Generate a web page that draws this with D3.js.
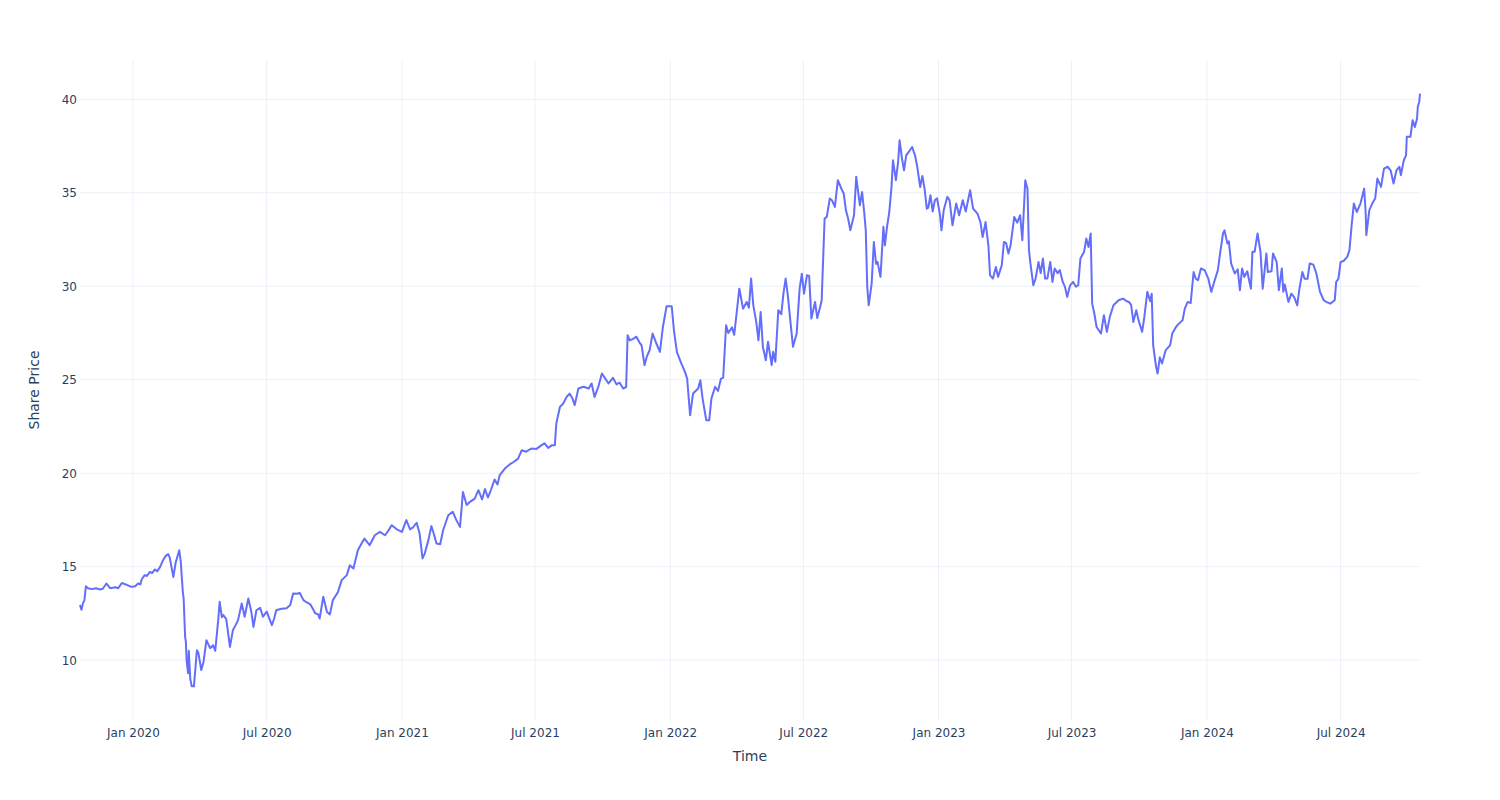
<!DOCTYPE html>
<html>
<head>
<meta charset="utf-8">
<script src="https://cdn.jsdelivr.net/npm/d3@7"></script>
<style>
  html, body { margin: 0; padding: 0; background: #fff; }
  svg { display: block; font-family: "DejaVu Sans", Verdana, sans-serif; }
</style>
</head>
<body>
<svg id="chart" width="1500" height="800"></svg>
<script>
const dates = [
"2019-10-21","2019-10-23","2019-10-25","2019-10-27","2019-10-29","2019-11-01","2019-11-06","2019-11-12","2019-11-17","2019-11-21",
"2019-11-26","2019-12-01","2019-12-08","2019-12-12","2019-12-17","2019-12-22","2019-12-30","2020-01-04","2020-01-08","2020-01-11",
"2020-01-13","2020-01-17","2020-01-20","2020-01-24","2020-01-27","2020-01-31","2020-02-03","2020-02-07","2020-02-11","2020-02-14",
"2020-02-18","2020-02-20","2020-02-25","2020-02-28","2020-03-04","2020-03-06","2020-03-09","2020-03-10","2020-03-12","2020-03-13",
"2020-03-14","2020-03-16","2020-03-17","2020-03-19","2020-03-21","2020-03-24","2020-03-28","2020-03-30","2020-04-03","2020-04-06",
"2020-04-10","2020-04-15","2020-04-19","2020-04-22","2020-04-26","2020-04-28","2020-05-01","2020-05-03","2020-05-07","2020-05-12",
"2020-05-16","2020-05-20","2020-05-23","2020-05-28","2020-06-01","2020-06-06","2020-06-10","2020-06-13","2020-06-17","2020-06-22",
"2020-06-26","2020-07-01","2020-07-08","2020-07-11","2020-07-14","2020-07-21","2020-07-28","2020-08-02","2020-08-06","2020-08-11",
"2020-08-15","2020-08-20","2020-08-24","2020-08-29","2020-09-01","2020-09-05","2020-09-09","2020-09-11","2020-09-16","2020-09-21",
"2020-09-25","2020-09-29","2020-10-06","2020-10-11","2020-10-18","2020-10-22","2020-10-27","2020-11-02","2020-11-07","2020-11-11",
"2020-11-18","2020-11-25","2020-12-02","2020-12-09","2020-12-13","2020-12-18","2020-12-25","2021-01-01","2021-01-07","2021-01-12",
"2021-01-16","2021-01-21","2021-01-25","2021-01-29","2021-02-01","2021-02-06","2021-02-10","2021-02-13","2021-02-17","2021-02-22",
"2021-02-26","2021-03-05","2021-03-11","2021-03-16","2021-03-21","2021-03-25","2021-03-30","2021-04-03","2021-04-10","2021-04-15",
"2021-04-20","2021-04-24","2021-04-28","2021-05-02","2021-05-07","2021-05-11","2021-05-14","2021-05-21","2021-05-28","2021-06-02",
"2021-06-08","2021-06-13","2021-06-19","2021-06-26","2021-07-03","2021-07-10","2021-07-14","2021-07-19","2021-07-24","2021-07-28",
"2021-07-30","2021-08-04","2021-08-08","2021-08-13","2021-08-17","2021-08-21","2021-08-24","2021-08-29","2021-09-05","2021-09-12",
"2021-09-16","2021-09-20","2021-09-25","2021-09-30","2021-10-04","2021-10-09","2021-10-11","2021-10-15","2021-10-20","2021-10-24",
"2021-10-29","2021-11-02","2021-11-04","2021-11-07","2021-11-12","2021-11-16","2021-11-20","2021-11-23","2021-11-27","2021-11-30",
"2021-12-04","2021-12-08","2021-12-13","2021-12-18","2021-12-22","2021-12-27","2022-01-03","2022-01-06","2022-01-10","2022-01-16",
"2022-01-21","2022-01-24","2022-01-28","2022-02-01","2022-02-08","2022-02-11","2022-02-14","2022-02-19","2022-02-23","2022-02-26",
"2022-03-03","2022-03-07","2022-03-11","2022-03-14","2022-03-18","2022-03-21","2022-03-26","2022-03-29","2022-04-02","2022-04-05",
"2022-04-10","2022-04-15","2022-04-18","2022-04-21","2022-04-24","2022-04-28","2022-05-01","2022-05-04","2022-05-07","2022-05-11",
"2022-05-14","2022-05-19","2022-05-21","2022-05-24","2022-05-28","2022-06-01","2022-06-04","2022-06-07","2022-06-10","2022-06-14",
"2022-06-17","2022-06-22","2022-06-26","2022-06-29","2022-07-02","2022-07-06","2022-07-09","2022-07-12","2022-07-17","2022-07-20",
"2022-07-24","2022-07-26","2022-07-30","2022-08-02","2022-08-06","2022-08-09","2022-08-13","2022-08-17","2022-08-22","2022-08-25",
"2022-08-28","2022-08-31","2022-09-03","2022-09-08","2022-09-11","2022-09-16","2022-09-19","2022-09-22","2022-09-24","2022-09-26",
"2022-09-28","2022-10-02","2022-10-05","2022-10-08","2022-10-10","2022-10-14","2022-10-18","2022-10-20","2022-10-23","2022-10-26",
"2022-10-29","2022-10-31","2022-11-04","2022-11-07","2022-11-09","2022-11-12","2022-11-15","2022-11-18","2022-11-23","2022-11-26",
"2022-11-30","2022-12-03","2022-12-07","2022-12-10","2022-12-13","2022-12-16","2022-12-18","2022-12-21","2022-12-24","2022-12-27",
"2022-12-30","2023-01-03","2023-01-05","2023-01-08","2023-01-13","2023-01-16","2023-01-20","2023-01-25","2023-01-29","2023-02-03",
"2023-02-07","2023-02-13","2023-02-17","2023-02-23","2023-02-27","2023-03-02","2023-03-06","2023-03-10","2023-03-12","2023-03-16",
"2023-03-20","2023-03-23","2023-03-28","2023-03-31","2023-04-03","2023-04-06","2023-04-09","2023-04-14","2023-04-18","2023-04-22",
"2023-04-25","2023-04-29","2023-05-02","2023-05-04","2023-05-06","2023-05-10","2023-05-13","2023-05-17","2023-05-20","2023-05-23",
"2023-05-26","2023-05-29","2023-06-02","2023-06-05","2023-06-08","2023-06-12","2023-06-15","2023-06-19","2023-06-22","2023-06-25",
"2023-06-29","2023-07-03","2023-07-07","2023-07-10","2023-07-13","2023-07-18","2023-07-21","2023-07-24","2023-07-27","2023-07-29",
"2023-08-01","2023-08-04","2023-08-10","2023-08-14","2023-08-18","2023-08-22","2023-08-27","2023-09-03","2023-09-09","2023-09-14",
"2023-09-17","2023-09-20","2023-09-23","2023-09-27","2023-09-30","2023-10-05","2023-10-08","2023-10-12","2023-10-16","2023-10-18",
"2023-10-20","2023-10-24","2023-10-26","2023-10-29","2023-11-01","2023-11-06","2023-11-12","2023-11-15","2023-11-20","2023-11-24",
"2023-11-29","2023-12-02","2023-12-06","2023-12-10","2023-12-14","2023-12-17","2023-12-20","2023-12-24","2023-12-29","2024-01-03",
"2024-01-07","2024-01-11","2024-01-16","2024-01-19","2024-01-23","2024-01-25","2024-01-29","2024-01-31","2024-02-03","2024-02-08",
"2024-02-12","2024-02-15","2024-02-18","2024-02-21","2024-02-25","2024-02-28","2024-03-01","2024-03-03","2024-03-06","2024-03-10",
"2024-03-14","2024-03-17","2024-03-22","2024-03-24","2024-03-29","2024-03-31","2024-04-05","2024-04-08","2024-04-12","2024-04-14",
"2024-04-16","2024-04-21","2024-04-25","2024-04-29","2024-05-03","2024-05-06","2024-05-10","2024-05-13","2024-05-17","2024-05-20",
"2024-05-25","2024-05-29","2024-06-03","2024-06-08","2024-06-12","2024-06-17","2024-06-23","2024-06-25","2024-06-28","2024-07-01",
"2024-07-05","2024-07-10","2024-07-13","2024-07-16","2024-07-19","2024-07-23","2024-07-28","2024-08-02","2024-08-04","2024-08-05",
"2024-08-09","2024-08-13","2024-08-17","2024-08-20","2024-08-25","2024-08-29","2024-09-03","2024-09-07","2024-09-11","2024-09-15",
"2024-09-19","2024-09-21","2024-09-25","2024-09-28","2024-09-29","2024-10-04","2024-10-07","2024-10-10","2024-10-13","2024-10-14",
"2024-10-16","2024-10-17"
];
const prices = [
12.95,12.7,13.05,13.2,13.95,13.85,13.8,13.85,13.78,13.82,
14.1,13.85,13.9,13.85,14.13,14.05,13.92,13.95,14.1,14.05,
14.33,14.55,14.5,14.72,14.65,14.85,14.75,14.99,15.35,15.55,
15.67,15.5,14.45,15.19,15.88,15.3,13.58,13.3,11.25,11.0,
10.0,9.3,10.5,9.0,8.6,8.6,10.53,10.4,9.47,9.9,
11.07,10.64,10.8,10.5,12.14,13.12,12.3,12.41,12.2,10.71,
11.6,11.9,12.14,13.03,12.32,13.3,12.6,11.78,12.67,12.8,
12.32,12.6,11.87,12.2,12.67,12.75,12.78,12.95,13.57,13.55,
13.6,13.21,13.1,13.0,12.8,12.51,12.45,12.23,13.39,12.58,
12.45,13.21,13.65,14.28,14.55,15.08,14.9,15.88,16.24,16.5,
16.15,16.68,16.86,16.68,16.9,17.22,17.0,16.86,17.49,17.0,
17.1,17.35,16.77,15.44,15.7,16.42,17.17,16.8,16.24,16.2,
16.95,17.75,17.94,17.49,17.13,19.0,18.3,18.45,18.64,19.09,
18.6,19.15,18.7,19.1,19.66,19.4,19.9,20.25,20.48,20.6,
20.78,21.23,21.15,21.32,21.3,21.5,21.6,21.35,21.5,21.5,
22.66,23.55,23.7,24.08,24.26,24.0,23.64,24.53,24.62,24.53,
24.8,24.08,24.6,25.33,25.1,24.8,24.9,25.1,24.75,24.85,
24.53,24.6,27.38,27.1,27.2,27.3,27.0,26.84,25.78,26.22,
26.58,27.47,26.95,26.49,27.82,28.93,28.93,27.65,26.49,25.87,
25.42,25.06,23.1,24.26,24.53,24.97,23.99,22.83,22.83,23.99,
24.62,24.4,25.06,25.1,27.91,27.5,27.8,27.4,28.8,29.87,
28.8,29.16,28.85,30.41,28.98,28.09,27.11,28.62,26.76,26.04,
27.03,25.78,26.5,25.96,28.72,28.5,29.6,30.41,29.5,27.91,
26.76,27.47,29.87,30.67,29.6,30.59,30.55,28.27,29.16,28.3,
28.9,29.25,33.62,33.71,34.69,34.6,34.24,35.67,35.2,34.96,
34.06,33.62,32.99,33.8,35.85,34.33,35.04,33.9,32.99,29.97,
28.98,30.14,32.37,31.2,31.3,30.5,33.18,32.19,33.2,33.97,
35.31,36.74,35.67,36.65,37.81,36.9,36.2,37.0,37.27,37.45,
37.0,36.39,35.31,35.9,35.22,34.15,34.2,34.87,34.0,34.6,
34.7,33.8,32.99,34.06,34.78,34.6,33.26,34.42,33.8,34.6,
34.0,35.13,34.15,33.88,33.43,32.63,33.43,32.1,30.59,30.41,
31.03,30.5,31.12,32.37,32.3,31.75,32.19,33.71,33.4,33.8,
32.46,35.67,35.22,31.93,31.22,30.05,30.4,31.3,30.7,31.48,
30.41,30.41,31.3,30.23,30.95,30.7,30.86,30.23,29.97,29.43,
30.05,30.23,29.97,30.05,31.48,31.84,32.55,32.1,32.82,29.07,
28.53,27.82,27.47,28.45,27.56,28.36,28.98,29.25,29.34,29.2,
29.16,29.0,28.09,28.72,28.2,27.56,28.36,29.7,29.2,29.6,
26.84,25.68,25.33,26.2,25.87,26.58,26.84,27.47,27.82,28.0,
28.18,28.8,29.16,29.1,30.76,30.4,30.32,30.95,30.86,30.41,
29.7,30.23,30.86,31.75,32.82,32.99,32.28,32.4,31.22,30.68,
30.9,29.79,30.95,30.5,30.8,30.23,29.87,31.84,31.84,32.82,
31.84,29.87,31.75,30.76,30.8,31.75,31.3,29.79,30.95,29.7,
30.1,29.16,29.6,29.4,28.98,29.87,30.76,30.4,30.4,31.22,
31.15,30.68,29.7,29.25,29.15,29.07,29.25,30.23,30.4,31.3,
31.35,31.57,31.93,33.26,34.42,33.97,34.42,35.22,34.0,32.73,
34.06,34.42,34.69,35.76,35.31,36.29,36.39,36.2,35.49,36.2,
36.39,35.94,36.74,37.0,37.99,38.0,38.88,38.52,38.97,39.6,
39.87,40.3
];
const yTicks = [10, 15, 20, 25, 30, 35, 40];
const xTickDates = ["2020-01-01","2020-07-01","2021-01-01","2021-07-01","2022-01-01","2022-07-01","2023-01-01","2023-07-01","2024-01-01","2024-07-01"];
const yDomain = [6.8, 42.1];
const xTitle = "Time";
const yTitle = "Share Price";

const parse = d3.timeParse("%Y-%m-%d");
const data = dates.map((d, i) => ({ date: parse(d), value: prices[i] }));

const W = 1500, H = 800;
const m = { top: 60, right: 80, bottom: 80, left: 80 };
const svg = d3.select("#chart");
const textColor = "#2a3f5f";
const gridColor = "#ebf0f8";

const x = d3.scaleTime()
  .domain(d3.extent(data, d => d.date))
  .range([m.left, W - m.right]);
const y = d3.scaleLinear()
  .domain(yDomain)
  .range([H - m.bottom, m.top]);

// grid
const g = svg.append("g");
g.selectAll("line.vg").data(xTickDates.map(parse)).enter().append("line")
  .attr("x1", d => x(d)).attr("x2", d => x(d))
  .attr("y1", m.top).attr("y2", H - m.bottom)
  .attr("stroke", gridColor).attr("stroke-width", 1);
g.selectAll("line.hg").data(yTicks).enter().append("line")
  .attr("x1", m.left).attr("x2", W - m.right)
  .attr("y1", d => y(d)).attr("y2", d => y(d))
  .attr("stroke", gridColor).attr("stroke-width", 1);

// axes
const fmt = d3.timeFormat("%b %Y");
const xAxis = d3.axisBottom(x)
  .tickValues(xTickDates.map(parse))
  .tickFormat(fmt)
  .tickSize(0).tickPadding(8);
const gx = svg.append("g").attr("transform", `translate(0,${H - m.bottom})`).call(xAxis);
gx.select(".domain").remove();
gx.selectAll("text").attr("fill", textColor).style("font-size", "12px")
  .style("font-family", "'DejaVu Sans', Verdana, sans-serif");

const yAxis = d3.axisLeft(y).tickValues(yTicks).tickSize(0).tickPadding(2);
const gy = svg.append("g").attr("transform", `translate(${m.left - 1},0)`).call(yAxis);
gy.select(".domain").remove();
gy.selectAll("text").attr("fill", textColor).style("font-size", "12px")
  .style("font-family", "'DejaVu Sans', Verdana, sans-serif");

// line
const line = d3.line().x(d => x(d.date)).y(d => y(d.value));
svg.append("path").datum(data)
  .attr("d", line)
  .attr("fill", "none")
  .attr("stroke", "#636efa")
  .attr("stroke-width", 2)
  .attr("stroke-linejoin", "round");

// titles
svg.append("text")
  .attr("x", (m.left + W - m.right) / 2).attr("y", 761)
  .attr("text-anchor", "middle").attr("fill", textColor)
  .style("font-size", "14px").text(xTitle);
svg.append("text")
  .attr("transform", `translate(39,${(m.top + H - m.bottom) / 2}) rotate(-90)`)
  .attr("text-anchor", "middle").attr("fill", textColor)
  .style("font-size", "14px").text(yTitle);
</script>
</body>
</html>
